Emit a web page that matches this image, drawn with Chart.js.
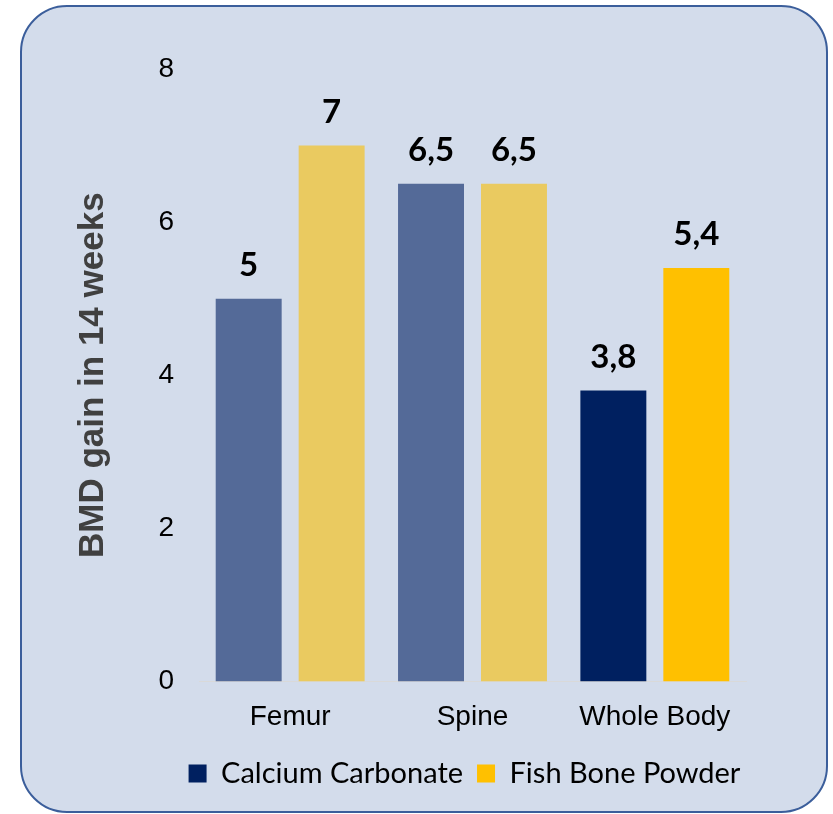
<!DOCTYPE html>
<html>
<head>
<meta charset="utf-8">
<script src="https://cdn.jsdelivr.net/npm/chart.js@4.4.1/dist/chart.umd.min.js"></script>
<style>
  html, body { margin: 0; padding: 0; background: #ffffff; }
  #wrap { width: 833px; height: 814px; position: relative; }
</style>
</head>
<body>
<div id="wrap"><canvas id="c" width="833" height="814"></canvas></div>
<script>
// Bone mineral density gain after 14 weeks
const categories = ['Femur', 'Spine', 'Whole Body'];
const seriesNames = ['Calcium Carbonate', 'Fish Bone Powder'];
const calciumCarbonate = [5, 6.5, 3.8];
const fishBonePowder = [7, 6.5, 5.4];
const yTicks = [0, 2, 4, 6, 8];

// Femur and Spine bars are shown muted, Whole Body in full colour
const navyShades = ['#546A98', '#546A98', '#002060'];
const goldShades = ['#EACA60', '#EACA60', '#FFC000'];
const legendColors = ['#002060', '#FFC000'];

const panelBackground = {
  id: 'panelBackground',
  beforeDraw(chart) {
    const ctx = chart.ctx;
    const x = 21, y = 6, w = 806, h = 806, r = 46;
    ctx.save();
    ctx.beginPath();
    ctx.moveTo(x + r, y);
    ctx.lineTo(x + w - r, y);
    ctx.arcTo(x + w, y, x + w, y + r, r);
    ctx.lineTo(x + w, y + h - r);
    ctx.arcTo(x + w, y + h, x + w - r, y + h, r);
    ctx.lineTo(x + r, y + h);
    ctx.arcTo(x, y + h, x, y + h - r, r);
    ctx.lineTo(x, y + r);
    ctx.arcTo(x, y, x + r, y, r);
    ctx.closePath();
    ctx.fillStyle = '#D3DCEB';
    ctx.fill();
    ctx.lineWidth = 2;
    ctx.strokeStyle = '#3B5E9B';
    ctx.stroke();
    ctx.restore();
  }
};

// Centre the legend under the plot area rather than the whole canvas
const legendUnderPlot = {
  id: 'legendUnderPlot',
  afterLayout(chart) {
    const lg = chart.legend;
    if (!lg) return;
    const area = chart.chartArea;
    const shift = (area.left + area.right) / 2 - (lg.left + lg.right) / 2 - 8;
    lg.left += shift;
    lg.right += shift;
  }
};

const valueLabels = {
  id: 'valueLabels',
  afterDatasetsDraw(chart) {
    const ctx = chart.ctx;
    ctx.save();
    ctx.font = 'bold 33px Lato, "Open Sans", sans-serif';
    ctx.fillStyle = '#000000';
    ctx.textAlign = 'center';
    ctx.textBaseline = 'alphabetic';
    chart.data.datasets.forEach((ds, di) => {
      const meta = chart.getDatasetMeta(di);
      meta.data.forEach((bar, i) => {
        const txt = String(ds.data[i]).replace('.', ',');
        ctx.fillText(txt, bar.x, bar.y - 23);
      });
    });
    ctx.restore();
  }
};

new Chart(document.getElementById('c'), {
  type: 'bar',
  data: {
    labels: categories,
    datasets: [
      { label: seriesNames[0], data: calciumCarbonate, backgroundColor: navyShades,
        categoryPercentage: 0.91, barPercentage: 0.795 },
      { label: seriesNames[1], data: fishBonePowder, backgroundColor: goldShades,
        categoryPercentage: 0.91, barPercentage: 0.795 }
    ]
  },
  options: {
    responsive: false,
    animation: false,
    layout: { padding: { left: 72, right: 87, top: 69, bottom: 16 } },
    plugins: {
      tooltip: { enabled: false },
      legend: {
        position: 'bottom',
        labels: {
          boxWidth: 18,
          boxHeight: 18,
          padding: 14,
          color: '#000000',
          font: { family: 'Lato, "Open Sans", sans-serif', size: 29 },
          generateLabels: (chart) => chart.data.datasets.map((ds, i) => ({
            text: ds.label,
            fillStyle: legendColors[i],
            strokeStyle: legendColors[i],
            lineWidth: 0,
            hidden: false,
            datasetIndex: i
          }))
        }
      }
    },
    scales: {
      x: {
        grid: { display: false },
        border: { display: true, color: '#D9D9D9', width: 1 },
        ticks: { color: '#000000', font: { family: 'Arial, "Liberation Sans", sans-serif', size: 28 }, padding: 11 }
      },
      y: {
        min: 0,
        max: 8,
        grid: { display: false },
        border: { display: false },
        afterBuildTicks: (scale) => { scale.ticks = yTicks.map(v => ({ value: v })); },
        afterFit: (scale) => { scale.width = 127; },
        ticks: { color: '#000000', font: { family: 'Arial, "Liberation Sans", sans-serif', size: 28 }, padding: 17 },
        title: {
          display: true,
          text: 'BMD gain in 14 weeks',
          color: '#404040',
          font: { family: 'Arial, "Liberation Sans", sans-serif', size: 35, weight: 'bold' },
          padding: 0
        }
      }
    }
  },
  plugins: [panelBackground, legendUnderPlot, valueLabels]
});
</script>
</body>
</html>
